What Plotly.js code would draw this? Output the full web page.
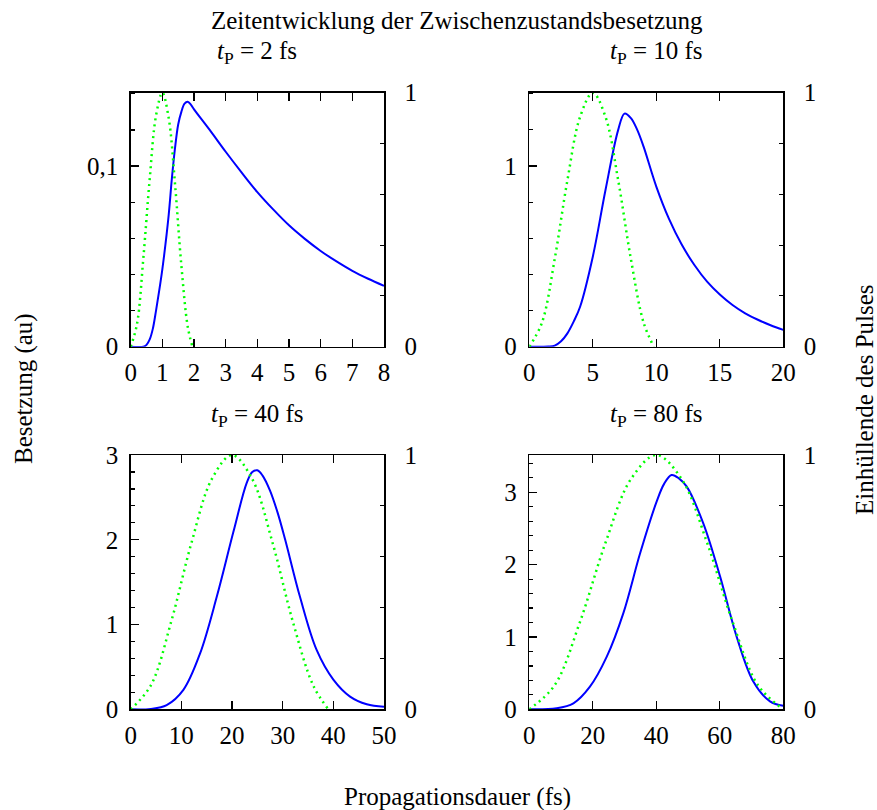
<!DOCTYPE html>
<html>
<head>
<meta charset="utf-8">
<script src="https://cdn.plot.ly/plotly-3.0.1.min.js"></script>
<style>
  html, body { margin: 0; padding: 0; background: #fff; }
  #chart { width: 877px; height: 810px; }
</style>
</head>
<body>
<div id="chart"></div>
<script>
// Population of the intermediate state (blue) and pulse envelope (green)
// for four pulse durations t_P.

// t_P = 2 fs
const t2 = [0, 0.4, 0.5, 0.6, 0.7, 0.8, 0.9, 1.0, 1.1, 1.2, 1.3, 1.4, 1.5, 1.6, 1.7, 1.8, 1.9, 2.0, 2.5, 3, 3.5, 4, 4.5, 5, 5.5, 6, 6.5, 7, 7.5, 8];
const pop2 = [0, 0, 0.001, 0.004, 0.010, 0.020, 0.031, 0.043, 0.057, 0.073, 0.093, 0.110, 0.123, 0.130, 0.1345, 0.1356, 0.134, 0.1314, 0.1199, 0.1079, 0.0965, 0.0856, 0.0760, 0.0672, 0.0597, 0.0530, 0.0472, 0.0420, 0.0376, 0.0337];
const tEnv2 = [0, 0.2, 0.4, 0.6, 0.8, 1.0, 1.2, 1.4, 1.6, 1.8, 1.95];
const env2 = [0, 0.09, 0.35, 0.66, 0.91, 1, 0.9, 0.64, 0.32, 0.08, 0];

// t_P = 10 fs
const t10 = [0, 1, 1.5, 2, 2.5, 3, 3.5, 4, 5, 6, 7, 7.5, 8, 8.5, 9, 10, 11, 12, 13, 14, 15, 16, 17, 18, 19, 20];
const pop10 = [0, 0, 0.001, 0.006, 0.03, 0.074, 0.14, 0.221, 0.498, 0.867, 1.20, 1.290, 1.265, 1.20, 1.107, 0.886, 0.707, 0.565, 0.452, 0.360, 0.289, 0.231, 0.185, 0.149, 0.119, 0.093];
const tEnv10 = [0, 1, 2, 3, 4, 5, 6, 7, 8, 9, 9.8];
const env10 = [0, 0.095, 0.345, 0.655, 0.905, 1, 0.905, 0.655, 0.345, 0.095, 0];

// t_P = 40 fs
const t40 = [0, 4, 7.1, 10.4, 13.7, 17, 20.3, 22.9, 24, 25, 26, 27.5, 29, 30.5, 33.4, 36.7, 40, 43.3, 46.6, 50];
const pop40 = [0, 0.005, 0.05, 0.23, 0.66, 1.33, 2.10, 2.67, 2.80, 2.82, 2.76, 2.58, 2.32, 2.00, 1.33, 0.70, 0.35, 0.15, 0.06, 0.03];
const tEnv40 = [0, 4, 8, 12, 16, 20, 24, 28, 32, 36, 39];
const env40 = [0, 0.095, 0.345, 0.655, 0.905, 1, 0.905, 0.655, 0.345, 0.095, 0];

// t_P = 80 fs
const t80 = [0, 8.6, 13.9, 19.1, 24.4, 29.6, 34.9, 40.1, 42.5, 44.8, 47.2, 49.6, 54.8, 60.1, 65.3, 70.6, 75.8, 80];
const pop80 = [0, 0.014, 0.083, 0.313, 0.728, 1.327, 2.157, 2.871, 3.12, 3.24, 3.19, 3.078, 2.571, 1.834, 1.005, 0.38, 0.11, 0.05];
const tEnv80 = [0, 8, 16, 24, 32, 40, 48, 56, 64, 72, 80];
const env80 = [0, 0.095, 0.345, 0.655, 0.905, 1, 0.905, 0.655, 0.345, 0.095, 0];

const panelTitles = ['<i>t</i><sub>P</sub> = 2 fs', '<i>t</i><sub>P</sub> = 10 fs',
                     '<i>t</i><sub>P</sub> = 40 fs', '<i>t</i><sub>P</sub> = 80 fs'];

const W = 877, H = 810;
const FONT = 'Liberation Serif, Times New Roman, serif';
const FS = 25;

// panel frames in pixels: [left, right, top, bottom]
const frames = [
  [130.7, 384, 92.7, 346.7],
  [529.3, 783.3, 92.7, 346.7],
  [130.7, 384, 455, 709.3],
  [529.3, 783.3, 455, 709.3]
];
const xRanges = [[0, 8], [0, 20], [0, 50], [0, 80]];
const xDticks = [1, 5, 10, 20];
const yRanges = [[0, 0.1406], [0, 1.4056], [0, 3], [0, 3.516]];
const yDticks = [0.1, 1, 1, 1];
const yMinor = [0.02, 0.2, 0.2, 0.2];

const popX = [t2, t10, t40, t80];
const popY = [pop2, pop10, pop40, pop80];
const envX = [tEnv2, tEnv10, tEnv40, tEnv80];
const envY = [env2, env10, env40, env80];

const data = [];
const layout = {
  width: W, height: H,
  margin: {l: 0, r: 0, t: 0, b: 0},
  paper_bgcolor: '#fff', plot_bgcolor: '#fff',
  showlegend: false,
  separators: ',.',
  font: {family: FONT, size: FS, color: '#000'},
  annotations: []
};

const axCommon = {
  showgrid: false, zeroline: false, showline: true,
  linecolor: '#000', linewidth: 1.5,
  ticks: 'inside', tickcolor: '#000', tickwidth: 1.2,
  tickfont: {family: FONT, size: FS, color: '#000'},
  fixedrange: true
};

for (let i = 0; i < 4; i++) {
  const [l, r, t, b] = frames[i];
  const xn = i === 0 ? '' : String(i + 1);
  const yL = i === 0 ? '' : String(2 * i + 1);
  const yR = String(2 * i + 2);

  layout['xaxis' + xn] = Object.assign({}, axCommon, {
    domain: [l / W, r / W], anchor: 'y' + yL,
    range: xRanges[i], tickmode: 'linear', tick0: 0, dtick: xDticks[i],
    ticklen: 8, mirror: 'ticks', ticklabelstandoff: 3
  });
  layout['yaxis' + yL] = Object.assign({}, axCommon, {
    domain: [1 - b / H, 1 - t / H], anchor: 'x' + xn,
    range: yRanges[i], tickmode: 'linear', tick0: 0, dtick: yDticks[i],
    ticklen: 8, mirror: false, ticklabelstandoff: 6,
    minor: {ticks: 'inside', dtick: yMinor[i], tick0: 0, ticklen: 4, tickcolor: '#000', tickwidth: 1.2}
  });
  layout['yaxis' + yR] = Object.assign({}, axCommon, {
    overlaying: 'y' + yL, side: 'right', anchor: 'x' + xn,
    range: [0, 1], tickmode: 'array', tickvals: [0, 1], ticktext: ['0', '1'],
    ticklen: 4, ticklabelstandoff: 14,
    minor: {ticks: 'inside', dtick: 0.2, tick0: 0, ticklen: 4, tickcolor: '#000', tickwidth: 1.2}
  });

  data.push({
    type: 'scatter', mode: 'lines',
    x: popX[i], y: popY[i],
    xaxis: 'x' + xn, yaxis: 'y' + yL,
    line: {color: '#0000ff', width: 2, shape: 'spline', smoothing: 1},
    hoverinfo: 'skip'
  });
  data.push({
    type: 'scatter', mode: 'lines',
    x: envX[i], y: envY[i],
    xaxis: 'x' + xn, yaxis: 'y' + yR,
    line: {color: '#00ff00', width: 2.5, dash: '2px,4px', shape: 'spline', smoothing: 1},
    hoverinfo: 'skip', cliponaxis: false
  });

  layout.annotations.push({
    xref: 'paper', yref: 'paper',
    x: ((l + r) / 2) / W, y: 1 - (t - 40) / H,
    text: panelTitles[i], showarrow: false,
    xanchor: 'center', yanchor: 'middle',
    font: {family: FONT, size: FS, color: '#000'}
  });
}

// figure title and shared axis titles
layout.annotations.push(
  {xref: 'paper', yref: 'paper', x: 457 / W, y: 1 - 21 / H,
   text: 'Zeitentwicklung der Zwischenzustandsbesetzung', showarrow: false,
   xanchor: 'center', yanchor: 'middle', font: {family: FONT, size: FS, color: '#000'}},
  {xref: 'paper', yref: 'paper', x: 457 / W, y: 1 - 797 / H,
   text: 'Propagationsdauer (fs)', showarrow: false,
   xanchor: 'center', yanchor: 'middle', font: {family: FONT, size: FS, color: '#000'}},
  {xref: 'paper', yref: 'paper', x: 24 / W, y: 1 - 389 / H,
   text: 'Besetzung (au)', showarrow: false, textangle: -90,
   xanchor: 'center', yanchor: 'middle', font: {family: FONT, size: FS, color: '#000'}},
  {xref: 'paper', yref: 'paper', x: 864 / W, y: 1 - 400 / H,
   text: 'Einhüllende des Pulses', showarrow: false, textangle: -90,
   xanchor: 'center', yanchor: 'middle', font: {family: FONT, size: FS, color: '#000'}}
);

Plotly.newPlot('chart', data, layout, {staticPlot: true, displayModeBar: false});
</script>
</body>
</html>
